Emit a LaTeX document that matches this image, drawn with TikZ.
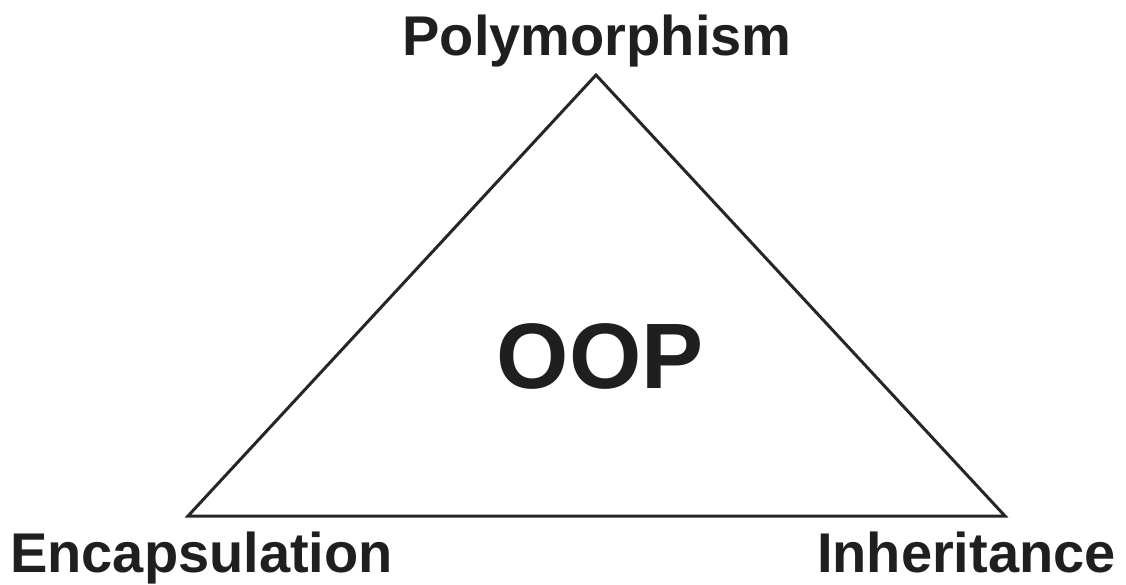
\documentclass[tikz,border=0pt]{standalone}
\usepackage{fontspec}
\setmainfont{Liberation Sans}

\begin{document}
\begin{tikzpicture}[x=1pt, y=-1pt,
  every node/.style={font=\bfseries\fontsize{56}{60}\selectfont, text=black!88, inner sep=0pt},
  big/.style={font=\bfseries\fontsize{93}{100}\selectfont}]
\useasboundingbox (0,0) rectangle (1126,584);
\coordinate (top) at (596,75);
\coordinate (left) at (188,516);
\coordinate (right) at (1005,516);
\draw[line width=3pt, black!85, line join=miter] (top) -- (right) -- (left) -- cycle;
\node[anchor=base] (poly) at (597,55) {Polymorphism};
\node[anchor=base west] (enc) at (10,572) {Encapsulation};
\node[anchor=base east] (inh) at (1116,572) {Inheritance};
\node[big, anchor=base] (oop) at (600,388) {OOP};
\end{tikzpicture}
\end{document}
